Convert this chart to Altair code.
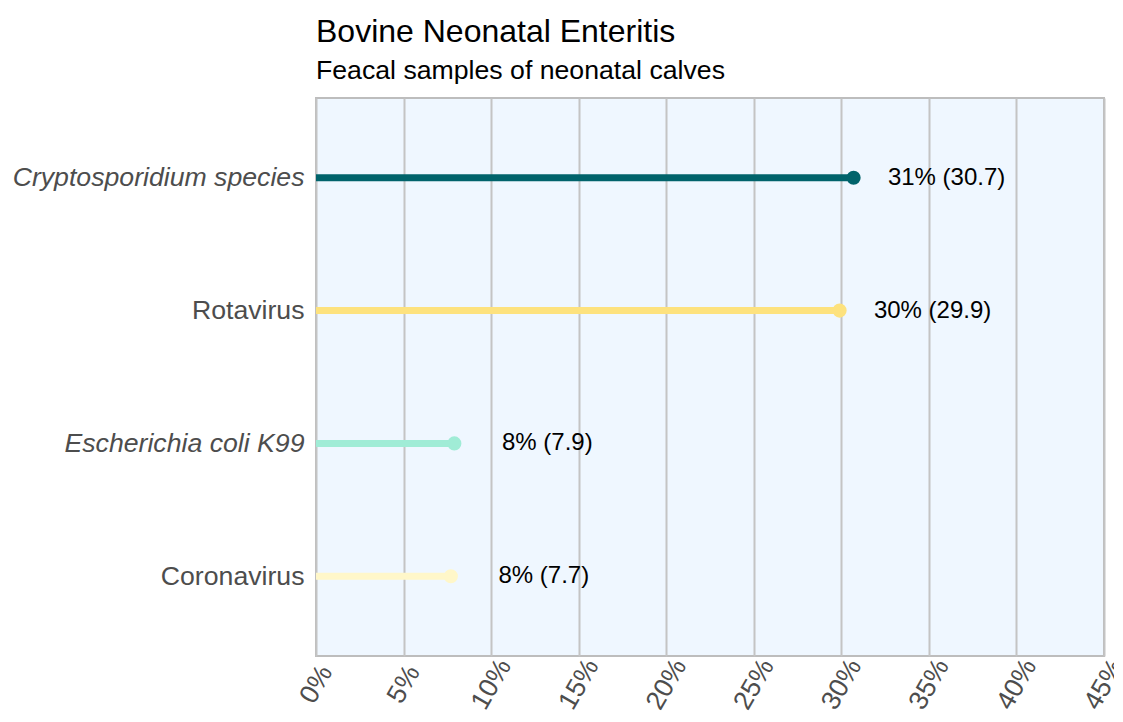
import altair as alt
import pandas as pd

categories = ["Cryptosporidium species", "Rotavirus", "Escherichia coli K99", "Coronavirus"]
values = [30.7, 29.9, 7.9, 7.7]
colors = ["#00636b", "#fde27e", "#a0ecd6", "#fff7c9"]
italic = [True, False, True, False]

df = pd.DataFrame({"cat": categories, "val": values, "color": colors})

italic_names = [c for c, i in zip(categories, italic) if i]
style_expr = "indexof(" + str(italic_names) + ", datum.label) >= 0 ? 'italic' : 'normal'"

font = "Liberation Sans"

y_enc = alt.Y("cat:N", sort=categories, title=None,
              scale=alt.Scale(type="point", padding=0.6),
              axis=alt.Axis(labelFontSize=26.67, labelColor="#4d4d4d", labelFont=font,
                            labelFontStyle=alt.ExprRef(style_expr), ticks=False, domain=False,
                            grid=False, labelPadding=12, labelLimit=500))
x_enc = alt.X("val:Q", title=None,
              scale=alt.Scale(domain=[0, 45], nice=False),
              axis=alt.Axis(values=list(range(0, 50, 5)), labelExpr="datum.value + '%'",
                            labelAngle=-60, labelAlign="center", labelBaseline="middle",
                            labelFontSize=26.67, labelColor="#4d4d4d", labelFont=font,
                            ticks=False, domain=False, grid=True, gridColor="#c4c4c4",
                            gridWidth=2, labelPadding=28))

base = alt.Chart(df)

rules = base.mark_rule(strokeWidth=7).encode(
    y=y_enc, x=x_enc, x2=alt.datum(0),
    color=alt.Color("color:N", scale=None))

points = base.mark_circle(size=200, opacity=1).encode(
    y=y_enc, x="val:Q", color=alt.Color("color:N", scale=None))

texts = base.mark_text(fontSize=24, font=font, color="black", dx=93, align="center",
                       baseline="middle").transform_calculate(
    lab="format(datum.val, '.0f') + '% (' + format(datum.val, '.1f') + ')'"
).encode(y=y_enc, x="val:Q", text="lab:N")

chart = (rules + points + texts).properties(
    width=788, height=558,
    autosize=alt.AutoSizeParams(type="none"),
    padding={"left": 308, "top": 90, "right": 10, "bottom": 58},
    title=alt.TitleParams("Bovine Neonatal Enteritis", subtitle="Feacal samples of neonatal calves",
                          anchor="start", frame="group", font=font, fontSize=32,
                          fontWeight="normal", color="black", subtitleFont=font,
                          subtitleFontSize=26.67, subtitleColor="black", subtitlePadding=9,
                          offset=12),
).configure_view(fill="#eff7ff", stroke="#bdbdbd", strokeWidth=2)

chart.save("out.html", embed_options={"renderer": "svg", "actions": False})
